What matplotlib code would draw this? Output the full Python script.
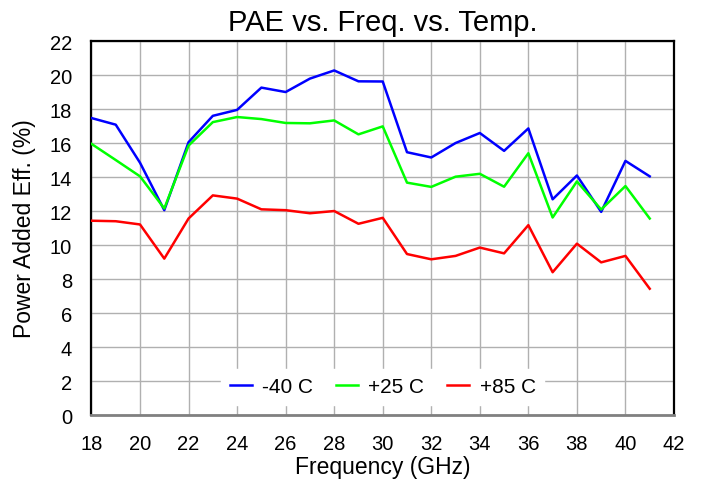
import matplotlib
matplotlib.use("Agg")
import matplotlib.pyplot as plt

plt.rcParams['font.family'] = ['Liberation Sans', 'DejaVu Sans']

freq = [18, 19, 20, 21, 22, 23, 24, 25, 26, 27, 28, 29, 30, 31, 32, 33, 34, 35, 36, 37, 38, 39, 40, 41]
pae_m40 = [17.47, 17.08, 14.84, 12.05, 16.05, 17.6, 17.95, 19.26, 19.0, 19.79, 20.27, 19.63, 19.62,
           15.46, 15.15, 16.0, 16.59, 15.54, 16.86, 12.69, 14.09, 11.95, 14.95, 14.04]
pae_p25 = [15.95, 15.0, 14.04, 12.15, 15.85, 17.23, 17.53, 17.41, 17.18, 17.16, 17.33, 16.51, 16.98,
           13.67, 13.42, 14.02, 14.19, 13.43, 15.4, 11.62, 13.74, 12.09, 13.47, 11.56]
pae_p85 = [11.43, 11.4, 11.21, 9.2, 11.56, 12.92, 12.73, 12.1, 12.05, 11.87, 12.0, 11.25, 11.6,
           9.47, 9.16, 9.36, 9.85, 9.51, 11.17, 8.4, 10.08, 8.98, 9.36, 7.43]
labels = ['-40 C', '+25 C', '+85 C']
colors = ['#0000ff', '#00ff00', '#ff0000']

fig = plt.figure(figsize=(7.02, 4.81), dpi=100)
ax = fig.add_axes([0.1303, 0.1351, 0.8298, 0.7775])

for y, lab, c in zip([pae_m40, pae_p25, pae_p85], labels, colors):
    ax.plot(freq, y, color=c, lw=1.8, label=lab, zorder=3)

ax.set_xlim(18, 42)
ax.set_ylim(0, 22)
ax.set_xticks(range(18, 43, 2))
ax.set_yticks(range(0, 23, 2))
ax.grid(True, color='#b0b0b0', lw=1.0, zorder=0)
ax.tick_params(axis='both', length=0, labelsize=14.5, pad=14)

for side in ['top', 'left', 'right']:
    ax.spines[side].set_color('black')
    ax.spines[side].set_linewidth(1.6)
ax.spines['bottom'].set_color('#808080')
ax.spines['bottom'].set_linewidth(2.0)

ax.set_title('PAE vs. Freq. vs. Temp.', fontsize=21, pad=8)
ax.set_xlabel('Frequency (GHz)', fontsize=16.5, labelpad=1)
ax.set_ylabel('Power Added Eff. (%)', fontsize=16.5, labelpad=10)

leg = ax.legend(loc='center', bbox_to_anchor=(0.5, 0.075), ncol=3, frameon=True,
                fontsize=15, handlelength=1.05, columnspacing=1.1, handletextpad=0.5,
                borderpad=0.4)
leg.get_frame().set_edgecolor('white')
leg.get_frame().set_facecolor('white')
leg.get_frame().set_alpha(1.0)
leg.get_frame().set_boxstyle('square', pad=0.0)

fig.savefig('out.png', dpi=100)
